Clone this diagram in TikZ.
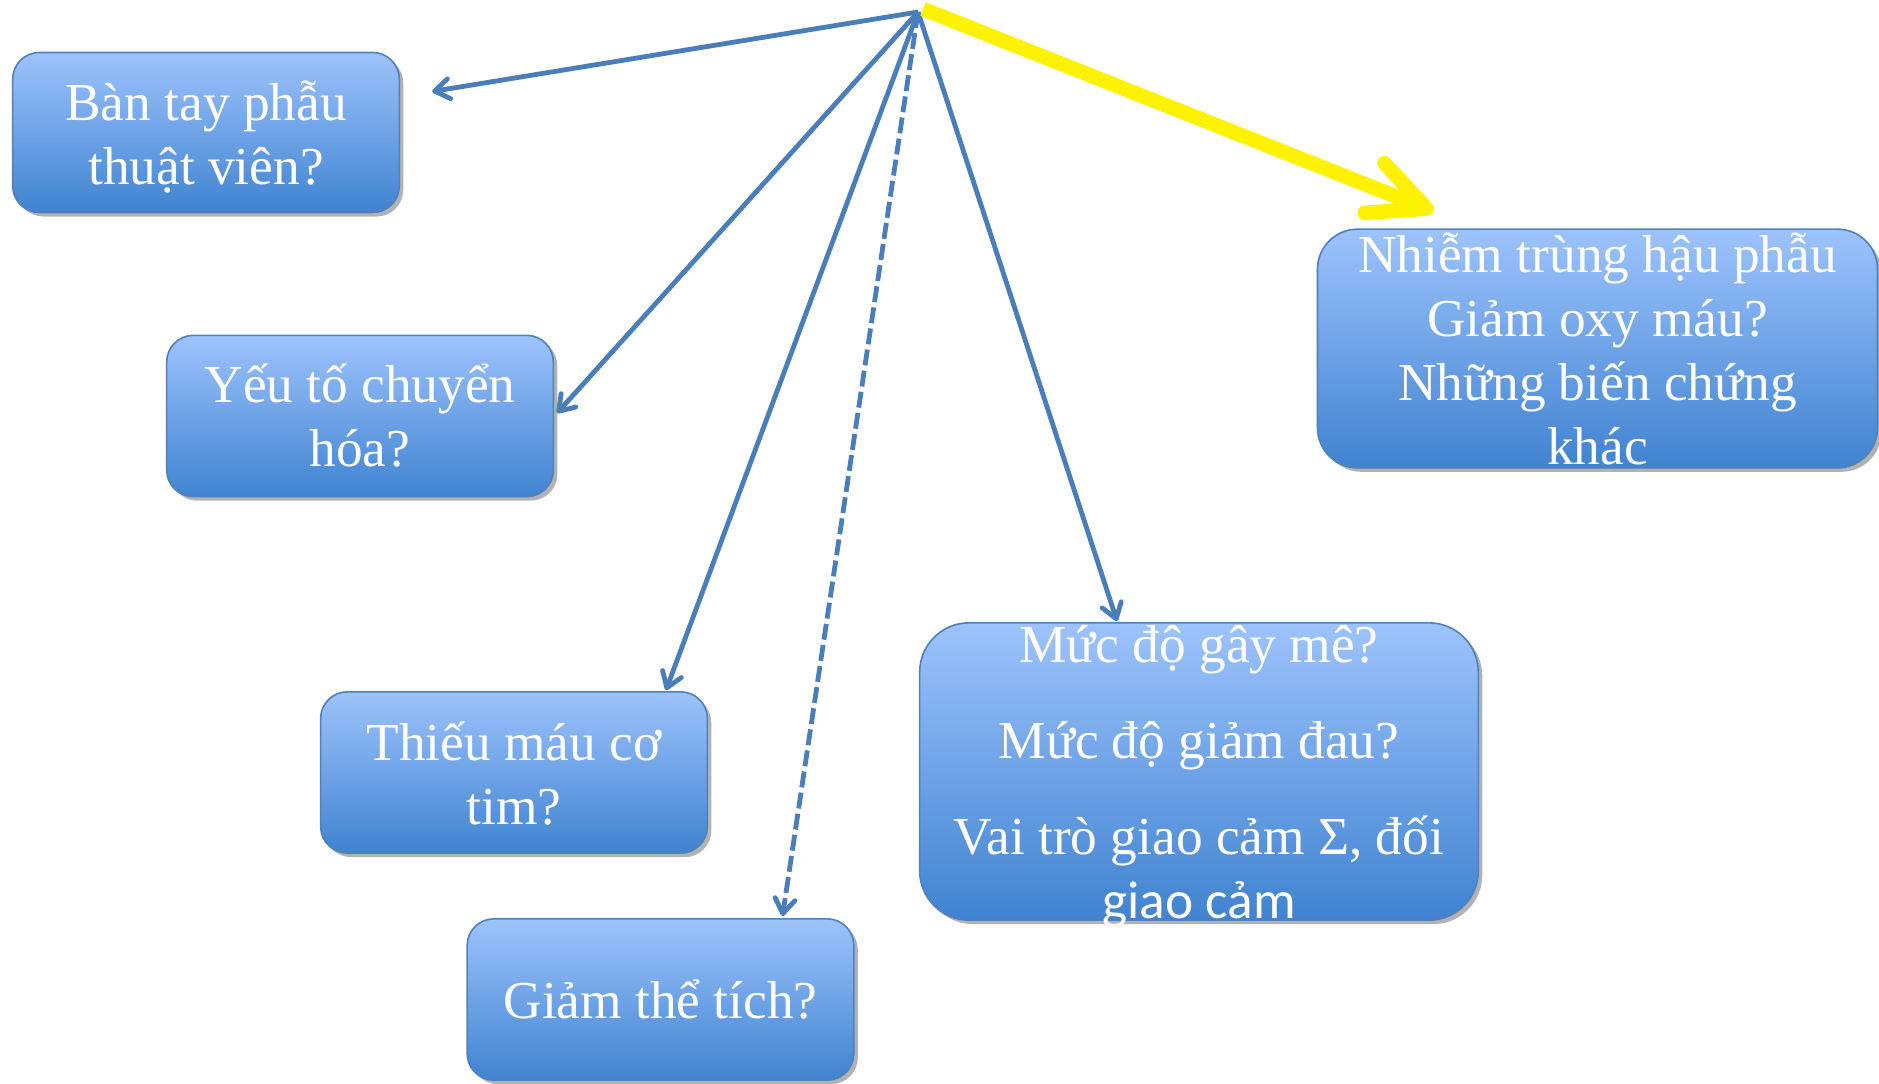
\documentclass[tikz,border=0pt]{standalone}
\usepackage{fontspec}
\setmainfont{Liberation Serif}
\newfontfamily\calibri{Carlito}
\usepackage{tikz}
\usetikzlibrary{positioning,arrows.meta,calc,shadows}
\definecolor{linkblue}{RGB}{74,126,187}
\definecolor{boxedge}{RGB}{79,129,189}
\definecolor{boxtop}{RGB}{157,195,252}
\definecolor{boxbot}{RGB}{64,131,208}

\begin{document}
\begin{tikzpicture}[
  x=0.75pt,y=-0.75pt,
  qbox/.style={draw=boxedge,line width=1.2pt,top color=boxtop,bottom color=boxbot,
    minimum width=#1,inner sep=0pt,
    drop shadow={shadow xshift=3pt,shadow yshift=-3pt,fill=black,opacity=0.3}},
  qtext/.style={text=white,align=center,font=\fontsize{40}{48}\selectfont},
  link/.style={-{Straight Barb[length=11pt,width=15pt,round]},line width=3.6pt,draw=linkblue},
  hot/.style={-{Straight Barb[length=42pt,width=40pt,round]},line width=11pt,draw=yellow}
]
\useasboundingbox (0,0) rectangle (1879,1083);

% cac o cau hoi
\node[qbox=290pt,minimum height=120pt,rounded corners=20pt] (b1) at (206,132.5) {};
\node[qtext] (t1) at ($(b1.center)+(0,5)$) {Bàn tay phẫu\\thuật viên?};

\node[qbox=290pt,minimum height=121pt,rounded corners=20pt] (b2) at (360,416) {};
\node[qtext] (t2) at (b2.center) {Yếu tố chuyển\\hóa?};

\node[qbox=290pt,minimum height=121pt,rounded corners=20pt] (b3) at (514,772.5) {};
\node[qtext] (t3) at ($(b3.center)+(0,1)$) {Thiếu máu cơ\\tim?};

\node[qbox=290pt,minimum height=121pt,rounded corners=20pt] (b4) at (660.5,999.5) {};
\node[qtext] (t4) at (b4.center) {Giảm thể tích?};

\node[qbox=419pt,minimum height=223pt,rounded corners=37pt] (b5) at (1199,771.5) {};
\node[qtext] (t5) at ($(b5.center)+(0,5)$)
  {Mức độ gây mê?\\[24pt]Mức độ giảm đau?\\[24pt]Vai trò giao cảm Σ, đối\\{\calibri giao cảm}};

\node[qbox=420pt,minimum height=179pt,rounded corners=30pt] (b6) at (1597.5,348.5) {};
\node[qtext] (t6) at (b6.center)
  {Nhiễm trùng hậu phẫu\\Giảm oxy máu?\\Những biến chứng\\khác};

% mui ten tu mot diem
\coordinate (hub) at (918,12);
\coordinate (hubr) at (923,9);
\draw[link] (hub) -- ($(b1.east)+(32,-41)$);
\draw[link] (hub) -- ($(b2.east)+(3,-3)$);
\draw[link] (hub) -- ($(b3.north)+(152,-1)$);
\draw[link,dash pattern=on 12pt off 4pt] (hub) -- ($(b4.north)+(122,-2)$);
\draw[link] (hub) -- ($(b5.north)+(-82,-1)$);
\draw[hot] (hubr) -- ($(b6.north)+(-164,-17)$);
\end{tikzpicture}
\end{document}
